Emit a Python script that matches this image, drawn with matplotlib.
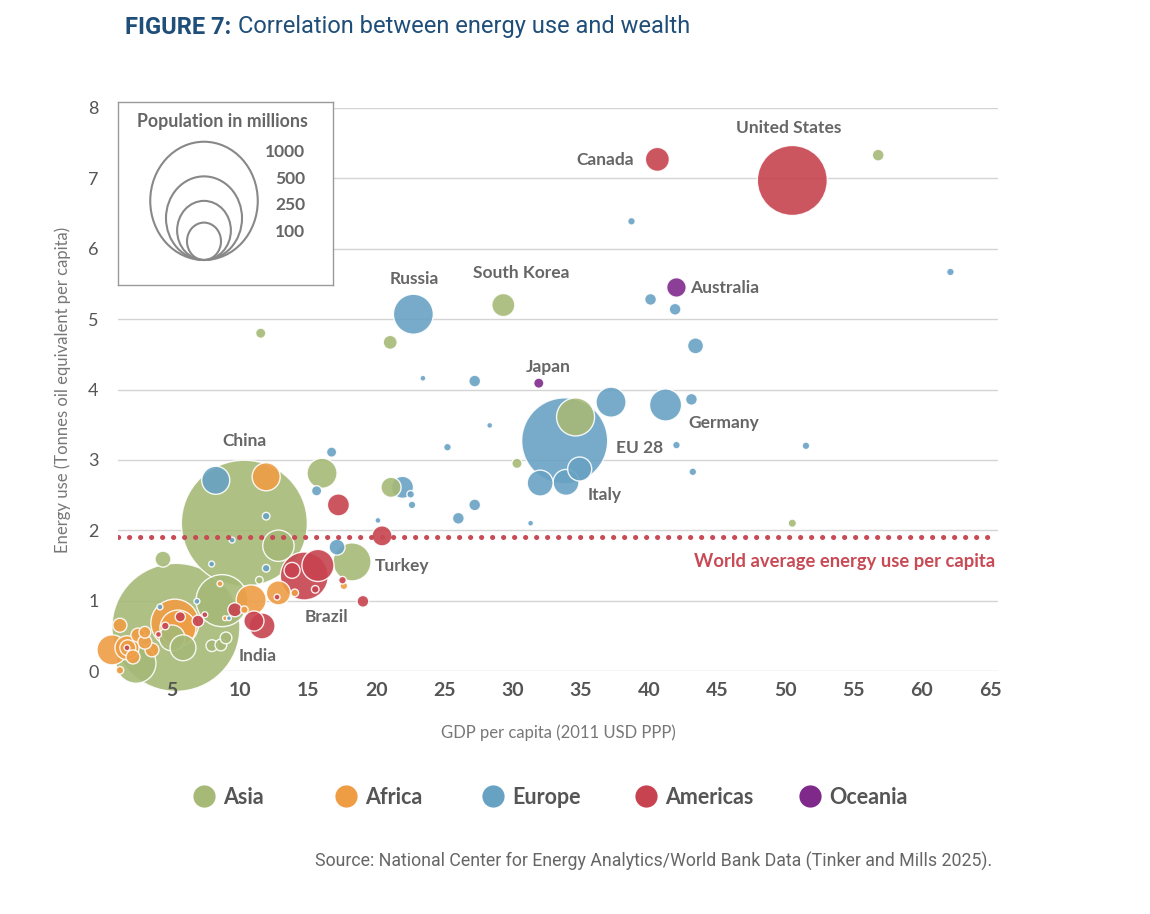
import matplotlib

matplotlib.use("Agg")
import matplotlib.pyplot as plt
import numpy as np
from matplotlib.lines import Line2D
from matplotlib.patches import Ellipse

# Bubble data: (GDP per capita in k 2011 USD PPP, energy use toe/capita, population millions)
asia_gdp = [56.8, 29.3, 11.5, 21.0, 34.6, 30.3, 50.5, 21.06, 16.0, 10.3, 12.8, 18.2,
            11.4, 5.28, 8.66, 4.33, 7.92, 8.58, 8.95, 2.35, 4.99, 5.8]
asia_energy = [7.33, 5.20, 4.80, 4.67, 3.61, 2.95, 2.10, 2.61, 2.81, 2.10, 1.78, 1.55,
               1.29, 0.62, 1.00, 1.59, 0.36, 0.37, 0.47, 0.11, 0.47, 0.33]
asia_pop = [12, 46, 9, 17, 125, 9, 6, 35, 78, 1373, 85, 125,
            5, 1417, 234, 22, 12, 12, 12, 138, 58, 58]

africa_gdp = [11.9, 12.8, 14.0, 17.6, 10.8, 10.3, 5.2, 5.43, 8.51, 8.88, 0.59, 1.69,
              1.75, 1.17, 2.49, 3.0, 2.13, 3.52, 1.17, 3.0]
africa_energy = [2.76, 1.11, 1.11, 1.21, 1.01, 0.87, 0.68, 0.61, 1.24, 0.75, 0.30, 0.33,
                 0.33, 0.65, 0.51, 0.55, 0.20, 0.30, 0.01, 0.41]
africa_pop = [68, 50, 5, 5, 78, 5, 199, 112, 3, 2, 78, 50,
              22, 17, 17, 12, 17, 17, 5, 17]

europe_gdp = [38.7, 62.1, 40.1, 41.9, 43.4, 22.7, 23.4, 27.2, 37.2, 41.2, 43.1, 33.8,
              34.9, 33.9, 32.0, 42.0, 51.5, 43.2, 28.3, 25.2, 27.2, 26.0, 31.3, 21.9,
              22.5, 22.6, 20.1, 16.7, 15.6, 8.2, 11.9, 9.4, 17.1, 11.9, 4.11, 6.82,
              9.17, 7.9]
europe_energy = [6.39, 5.67, 5.28, 5.14, 4.62, 5.07, 4.16, 4.12, 3.82, 3.78, 3.86, 3.27,
                 2.87, 2.68, 2.67, 3.21, 3.20, 2.83, 3.49, 3.18, 2.36, 2.17, 2.10, 2.61,
                 2.51, 2.36, 2.14, 3.11, 2.56, 2.71, 2.20, 1.86, 1.76, 1.46, 0.91, 0.99,
                 0.75, 1.52]
europe_pop = [5, 5, 12, 12, 22, 138, 3, 12, 78, 89, 12, 640,
              50, 58, 58, 5, 5, 5, 3, 5, 12, 12, 3, 42,
              5, 5, 3, 9, 9, 68, 5, 3, 22, 5, 3, 3,
              2, 3]

americas_gdp = [50.5, 40.6, 20.4, 17.2, 15.7, 14.7, 17.5, 15.5, 19.0, 12.7, 11.0, 11.6,
                9.6, 5.6, 4.5, 4.0, 6.9, 7.4, 1.69, 13.8]
americas_energy = [6.97, 7.27, 1.92, 2.36, 1.50, 1.35, 1.29, 1.16, 0.99, 1.05, 0.71, 0.64,
                   0.87, 0.77, 0.64, 0.52, 0.71, 0.80, 0.33, 1.43]
americas_pop = [424, 50, 35, 42, 89, 199, 5, 5, 12, 3, 35, 58,
                17, 9, 5, 3, 12, 3, 3, 22]

oceania_gdp = [42.0, 31.9]
oceania_energy = [5.45, 4.09]
oceania_pop = [33, 9]

regions = ["Asia", "Africa", "Europe", "Americas", "Oceania"]
region_colors = ["#A6B977", "#EF9D45", "#68A2C3", "#C7434F", "#7F2A8B"]

world_avg = 1.9
legend_pops = [1000, 500, 250, 100]

labels = [
    ("United States", 50.2, 7.71, "center"),
    ("Canada", 36.8, 7.26, "center"),
    ("Australia", 43.0, 5.44, "left"),
    ("Russia", 22.8, 5.57, "center"),
    ("South Korea", 30.6, 5.65, "center"),
    ("Japan", 32.6, 4.32, "center"),
    ("Germany", 45.5, 3.52, "center"),
    ("EU 28", 39.3, 3.17, "center"),
    ("Italy", 36.7, 2.50, "center"),
    ("China", 10.3, 3.27, "center"),
    ("Turkey", 21.9, 1.49, "center"),
    ("Brazil", 16.3, 0.77, "center"),
    ("India", 11.3, 0.21, "center"),
]

DPI = 100
K = 1.7  # bubble radius in pixels per sqrt(million people)
GRAY = "#666666"
W, H = 1150, 914

plt.rcParams["font.family"] = ["Lato", "DejaVu Sans"]

fig = plt.figure(figsize=(W / DPI, H / DPI), dpi=DPI)
ax = fig.add_axes([118 / W, 1 - 671 / H, 880 / W, 563 / H])

# collect everything, draw big bubbles first
gdp, energy, pop, cols = [], [], [], []
series = [
    (asia_gdp, asia_energy, asia_pop),
    (africa_gdp, africa_energy, africa_pop),
    (europe_gdp, europe_energy, europe_pop),
    (americas_gdp, americas_energy, americas_pop),
    (oceania_gdp, oceania_energy, oceania_pop),
]
for (g, e, p), c in zip(series, region_colors):
    gdp += g
    energy += e
    pop += p
    cols += [c] * len(g)
gdp, energy, pop = np.array(gdp), np.array(energy), np.array(pop, dtype=float)
order = np.argsort(-pop, kind="stable")
sizes = pop * (2 * K * 72 / DPI) ** 2

ax.scatter(gdp[order], energy[order], s=sizes[order], c=[cols[i] for i in order],
           alpha=0.9, edgecolors="white", linewidths=1.0, clip_on=False, zorder=1)

for yv in range(0, 9):
    ax.axhline(yv, color="#d4d4d4", lw=1.0, zorder=0.5)

ax.axhline(world_avg, color="#C84A55", lw=3.6, linestyle=(0, (0.05, 2.15)),
           dash_capstyle="round", zorder=2)
ax.text(65.4, world_avg - 0.34, "World average energy use per capita", color="#C84A55",
        fontsize=13.2, fontweight="bold", ha="right", va="center")

for name, x, y, ha in labels:
    ax.text(x, y, name, color=GRAY, fontsize=12.5, fontweight="bold", ha=ha, va="center",
            zorder=3)

ax.set_xlim(1.03, 65.59)
ax.set_ylim(0, 8)
ax.set_xticks(range(5, 70, 5))
ax.set_yticks(range(0, 9))
ax.tick_params(length=0)
ax.tick_params(axis="x", labelsize=14, labelcolor="#555555", pad=8)
ax.tick_params(axis="y", labelsize=13, labelcolor="#555555", pad=14)
for lbl in ax.get_xticklabels():
    lbl.set_fontweight("bold")
for side in ax.spines.values():
    side.set_visible(False)

ax.set_xlabel("GDP per capita (2011 USD PPP)", fontsize=12, color="#777777", labelpad=18)
ax.set_ylabel("Energy use (Tonnes oil equivalent per capita)", fontsize=12, color="#777777",
              labelpad=12)

# population key
kax = fig.add_axes([118 / W, 1 - 285 / H, 215 / W, 183 / H], zorder=3)
kax.set_xlim(0, 215)
kax.set_ylim(0, 183)
kax.set_xticks([])
kax.set_yticks([])
for side in kax.spines.values():
    side.set_color("#9a9a9a")
    side.set_linewidth(1.0)
kax.text(104, 164, "Population in millions", color=GRAY, fontsize=12.8, fontweight="bold",
         ha="center", va="center")
label_y = [133, 106, 80, 53]
for p, ly in zip(legend_pops, label_y):
    w = 2 * K * np.sqrt(p)
    h = 1.1 * w
    kax.add_patch(Ellipse((86, 25 + h / 2), w, h, fill=False, edgecolor="#888888", lw=1.5))
    kax.text(187, ly, str(p), color=GRAY, fontsize=12.5, fontweight="bold", ha="right",
             va="center")

# region legend, one entry per slot
marker_px = [204, 346, 493, 646, 810]
for name, c, mx in zip(regions, region_colors, marker_px):
    h = Line2D([], [], marker="o", linestyle="none", markersize=16, markerfacecolor=c,
               markeredgecolor="none")
    leg = fig.legend([h], [name], loc="center left",
                     bbox_to_anchor=((mx - 11) / W, 1 - 797 / H), frameon=False,
                     borderpad=0, borderaxespad=0, handlelength=1.0, handletextpad=0.4,
                     prop={"weight": "bold", "size": 15.5})
    for t in leg.get_texts():
        t.set_color("#555555")

fig.text(125 / W, 1 - 27 / H, "FIGURE 7:", color="#1F4E79", fontsize=17,
         fontweight="bold", family=["Roboto", "DejaVu Sans"], va="center")
fig.text(238 / W, 1 - 27 / H, "Correlation between energy use and wealth",
         color="#1F4E79", fontsize=17, family=["Roboto", "DejaVu Sans"], va="center")
fig.text(992 / W, 1 - 861 / H,
         "Source: National Center for Energy Analytics/World Bank Data (Tinker and Mills 2025).",
         color="#666666", fontsize=12.8, family=["Roboto", "DejaVu Sans"], ha="right",
         va="center")

fig.savefig("out.png", dpi=DPI)
